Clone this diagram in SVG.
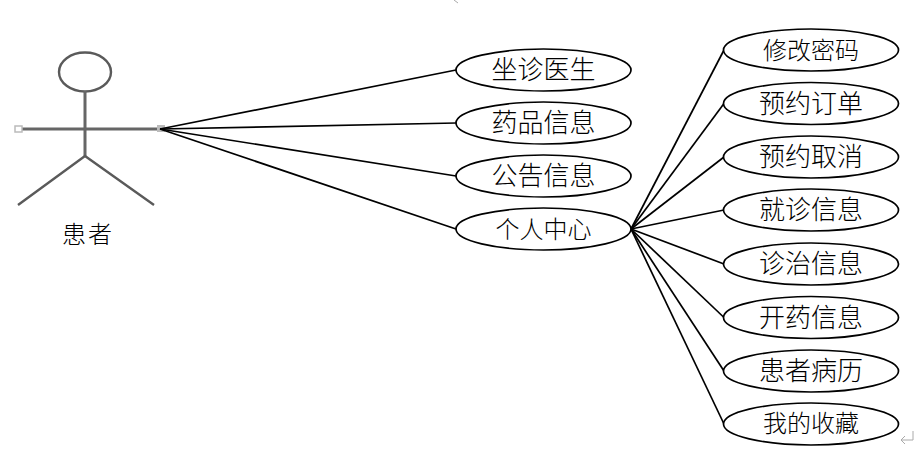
<svg xmlns="http://www.w3.org/2000/svg" width="921" height="456" viewBox="0 0 921 456">
<style>
.n ellipse{fill:#fff;stroke:#000;stroke-width:1.7}
.n text{font-family:"Noto Sans CJK SC","Noto Sans CJK JP",sans-serif;font-size:26px;fill:#000;text-anchor:middle;dominant-baseline:central;font-weight:300}
.n text.s{font-size:24px}
.c line{stroke:#000;stroke-width:1.7}
.a{fill:none;stroke:#5a5a5a;stroke-width:2.4}
.b{fill:none;stroke:#666;stroke-width:3}
.h{fill:#fff;stroke:#bbb;stroke-width:1.5}
</style>
<rect width="921" height="456" fill="#fff"/>
<g id="actor">
<ellipse class="a" cx="85" cy="72" rx="26" ry="19.500"/>
<path class="b" d="M85 91V156M18 129H160"/>
<path class="a" d="M18 205L85 156L154 205"/>
<rect class="h" x="15" y="126" width="7" height="6"/>
<rect x="157" y="125" width="8" height="7" fill="#bbb"/>
</g>
<g class="c" id="connectors">
<line x1="160" y1="129" x2="456" y2="70"/>
<line x1="160" y1="129" x2="456" y2="123"/>
<line x1="160" y1="129" x2="456" y2="176"/>
<line x1="160" y1="129" x2="456" y2="229"/>
<line x1="631" y1="229" x2="724" y2="50"/>
<line x1="631" y1="229" x2="724" y2="103.500"/>
<line x1="631" y1="229" x2="724" y2="157"/>
<line x1="631" y1="229" x2="724" y2="210"/>
<line x1="631" y1="229" x2="724" y2="264"/>
<line x1="631" y1="229" x2="724" y2="317.500"/>
<line x1="631" y1="229" x2="724" y2="371"/>
<line x1="631" y1="229" x2="724" y2="424"/>
</g>
<g class="n" id="label-patient"><text class="s" x="88" y="232" letter-spacing="2">患者</text></g>
<g class="n" id="n1"><ellipse cx="543.500" cy="70" rx="87.500" ry="21"/><text x="543.500" y="67.500">坐诊医生</text></g>
<g class="n" id="n2"><ellipse cx="543.500" cy="123" rx="87.500" ry="21"/><text x="543.500" y="120.500">药品信息</text></g>
<g class="n" id="n3"><ellipse cx="543.500" cy="176" rx="87.500" ry="21"/><text x="543.500" y="173.500">公告信息</text></g>
<g class="n" id="n4"><ellipse cx="543.500" cy="229" rx="87.500" ry="21"/><text class="s" x="543.500" y="227">个人中心</text></g>
<g class="n" id="m1"><ellipse cx="811" cy="50" rx="87.500" ry="21"/><text class="s" x="811" y="48">修改密码</text></g>
<g class="n" id="m2"><ellipse cx="811" cy="103.500" rx="87.500" ry="21"/><text x="811" y="101">预约订单</text></g>
<g class="n" id="m3"><ellipse cx="811" cy="157" rx="87.500" ry="21"/><text x="811" y="154.500">预约取消</text></g>
<g class="n" id="m4"><ellipse cx="811" cy="210" rx="87.500" ry="21"/><text x="811" y="207.500">就诊信息</text></g>
<g class="n" id="m5"><ellipse cx="811" cy="264" rx="87.500" ry="21"/><text x="811" y="261.500">诊治信息</text></g>
<g class="n" id="m6"><ellipse cx="811" cy="317.500" rx="87.500" ry="21"/><text x="811" y="315">开药信息</text></g>
<g class="n" id="m7"><ellipse cx="811" cy="371" rx="87.500" ry="21"/><text x="811" y="368.500">患者病历</text></g>
<g class="n" id="m8"><ellipse cx="811" cy="424" rx="87.500" ry="21"/><text class="s" x="811" y="421">我的收藏</text></g>
<path d="M913 431V440H901M905 436L901 440L905 444" fill="none" stroke="#aaa" stroke-width="1"/>
<path d="M454 0L458 3" fill="none" stroke="#aaa" stroke-width="1"/>
</svg>
